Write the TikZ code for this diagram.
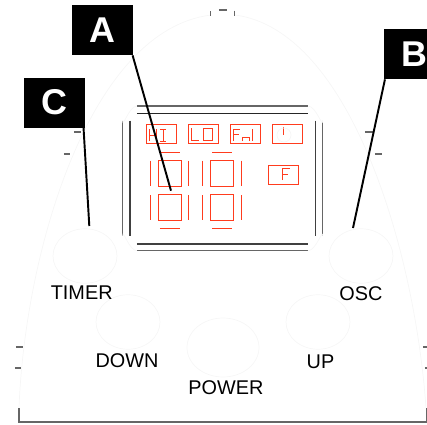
\documentclass[tikz,border=0pt]{standalone}
\usepackage{fontspec}
\setmainfont{Liberation Sans}
\usetikzlibrary{shapes.geometric, positioning}

\definecolor{lcdred}{RGB}{255,60,30}
\definecolor{faintgray}{RGB}{246,246,246}

\begin{document}
\begin{tikzpicture}[
    x=0.02cm, y=-0.02cm,
    flag/.style={rectangle, fill=black, text=white, inner sep=0pt, minimum width=1.21cm, minimum height=1cm, font=\fontsize{20.4}{20.4}\selectfont\bfseries},
    button/.style={ellipse, draw=faintgray, line width=0.4pt, inner sep=0pt},
    smallbutton/.style={button, minimum width=1.28cm, minimum height=1.09cm},
    bigbutton/.style={button, minimum width=1.44cm, minimum height=1.18cm},
    caption/.style={inner sep=0pt, font=\fontsize{11.3}{11.3}\selectfont},
    lcdbox/.style={rectangle, draw=lcdred, line width=0.6pt, inner sep=0pt, minimum width=0.6cm, minimum height=0.38cm},
    seg/.style={draw=lcdred, line width=0.55pt},
    frameline/.style={draw=black!60, line width=0.6pt},
    faint/.style={draw=faintgray, line width=0.4pt},
    leader/.style={draw=black, line width=1.1pt}
]
\useasboundingbox (0,0) rectangle (427,424);

% case outline and ticks
\draw[faint] (19,408) .. controls (25,250) and (90,30) .. (211,15);
\draw[faint] (235,15) .. controls (350,30) and (415,250) .. (426,408);
\draw[frameline] (19,408) -- (19,422) -- (426.5,422) -- (426.5,408);
\draw[frameline] (210.7,11) -- (210.7,16);
\draw[frameline] (219,10) -- (227,10);
\draw[frameline] (234.7,10.5) -- (234.7,15.5);
\draw[frameline] (74,132) -- (81,132);
\draw[frameline] (64,154) -- (70,154);
\draw[frameline] (365,132) -- (373,132);
\draw[frameline] (375,154) -- (382,154);
\draw[frameline] (16,347) -- (23,347);
\draw[frameline] (15,368) -- (21,368);
\draw[frameline] (423,347) -- (427,347);
\draw[frameline] (425,368) -- (427,368);

% display frame
\draw[frameline] (137,106) -- (308,106);
\draw[frameline, draw=black!85] (137,113.3) -- (308,113.3);
\draw[frameline, draw=black!75] (137,244) -- (308,244);
\draw[frameline] (137,250.7) -- (308,250.7);
\draw[frameline] (122.7,120.7) -- (122.7,236);
\draw[frameline, draw=black!75] (130,120.7) -- (130,236);
\draw[frameline, draw=black!75] (315.7,120.7) -- (315.7,236);
\draw[frameline] (322.7,120.7) -- (322.7,236);
\draw[faint] (122.7,120.7) to[out=-90, in=180] (137,106);
\draw[faint] (308,106) to[out=0, in=-90] (322.7,120.7);
\draw[faint] (122.7,236) to[out=90, in=180] (137,250.7);
\draw[faint] (308,250.7) to[out=0, in=90] (322.7,236);

% mode boxes
\node[lcdbox] (hibox) at (161.7,133.8) {};
\node[lcdbox, right=0.22cm of hibox] (lobox) {};
\node[lcdbox, right=0.22cm of lobox] (fanbox) {};
\node[lcdbox, right=0.22cm of fanbox] (powerbox) {};
\node[lcdbox] (fbox) at (283.5,175.2) {};

\draw[seg] (149.3,129) -- (149.3,141) (156,129) -- (156,141) (149.3,135) -- (156,135);
\draw[seg] (160,129) -- (166,129) (163,129) -- (163,141) (160,141) -- (166,141);
\draw[seg] (191.7,128) -- (191.7,140) -- (199.3,140);
\draw[seg] (203.3,128) rectangle (212,140);
\draw[seg] (233.3,141) -- (233.3,129) -- (240,129) (233.3,134.5) -- (239,134.5);
\draw[seg] (242.3,141) -- (242.3,137.5) -- (249.3,137.5) -- (249.3,141);
\draw[seg] (252.5,129) -- (252.5,141);
\draw[seg] (283.7,126.7) -- (283.7,135);
\draw[faint] (284,135) circle (7);
\draw[seg] (282.3,180) -- (282.3,168) -- (290,168) (282.3,174) -- (288,174);

% digits
\foreach \dx in {0,52.4} {
    \begin{scope}[shift={(\dx,0)}]
        \draw[seg] (160,152.3) -- (180,152.3);
        \draw[seg] (158.3,160) rectangle (181,186);
        \draw[seg] (150.3,160.7) -- (150.3,186) (188.7,160.7) -- (188.7,186);
        \draw[seg] (158.3,194.3) rectangle (181,220);
        \draw[seg] (150.3,195) -- (150.3,220) (188.7,195) -- (188.7,220);
        \draw[seg] (160,228.3) -- (180,228.3);
    \end{scope}
}

% buttons
\node[smallbutton] (timerbtn) at (85,256) {};
\node[smallbutton] (oscbtn) at (361,256) {};
\node[smallbutton] (downbtn) at (128,322) {};
\node[smallbutton] (upbtn) at (318,322) {};
\node[bigbutton] (powerbtn) at (223,347.5) {};

\node[caption, below=0.035cm of timerbtn, xshift=-0.066cm] (timer_label) {TIMER};
\node[caption, below=0.055cm of oscbtn] (osc_label) {OSC};
\node[caption, below=0.08cm of downbtn, xshift=-0.02cm] (down_label) {DOWN};
\node[caption, below=0.1cm of upbtn, xshift=0.05cm] (up_label) {UP};
\node[caption, below=0.06cm of powerbtn, xshift=0.06cm] (power_label) {POWER};

% callouts
\node[flag] (flag_a) at (102.7,30) {A};
\node[flag] (flag_b) at (414.5,54) {B};
\node[flag] (flag_c) at (54.7,102.5) {C};
\coordinate (end_a) at (171,190.7);
\coordinate (end_b) at (353,228);
\coordinate (end_c) at (89.3,226);

\draw[leader] ([xshift=-0.4pt]flag_a.south east) -- (end_a);
\draw[leader] ([xshift=0.6pt]flag_b.south west) -- (end_b);
\draw[leader] ([xshift=-1pt]flag_c.south east) -- (end_c);

\end{tikzpicture}
\end{document}
